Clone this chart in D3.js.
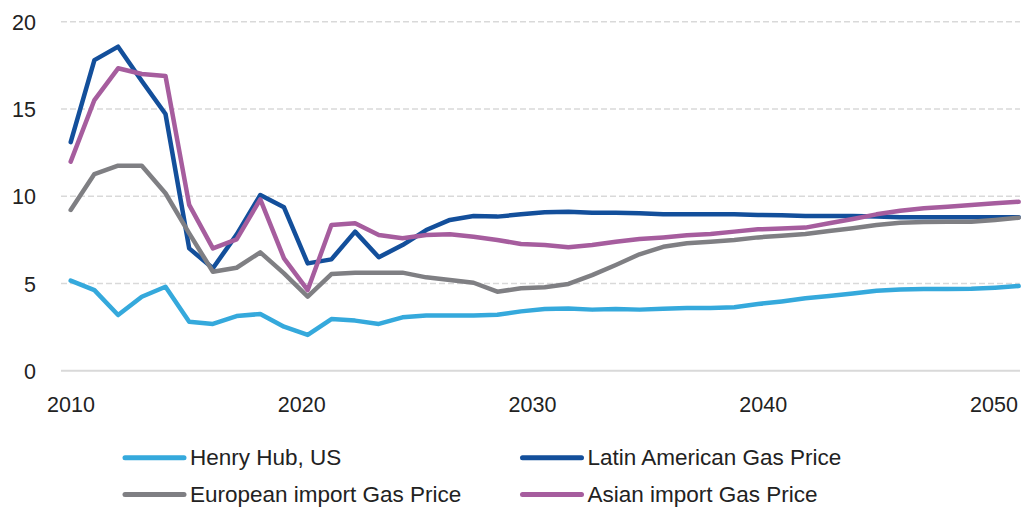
<!DOCTYPE html>
<html>
<head>
<meta charset="utf-8">
<script src="https://cdn.jsdelivr.net/npm/d3@7"></script>
<style>
  body { margin: 0; background: #fff; }
  text { font-family: "Liberation Sans", Arial, sans-serif; fill: #222; }
</style>
</head>
<body>
<div id="chart"></div>
<script>
(function() {
  // years 2010..2050
  var years = d3.range(2010, 2051)

  var henryHub = [5.16, 4.62, 3.19, 4.24, 4.81, 2.81, 2.68, 3.13, 3.25, 2.52,
    2.05, 2.96, 2.87, 2.68, 3.06, 3.17, 3.17, 3.17, 3.21, 3.4,
    3.54, 3.57, 3.5, 3.54, 3.5, 3.55, 3.59, 3.6, 3.64, 3.82,
    3.97, 4.15, 4.28, 4.43, 4.58, 4.66, 4.68, 4.68, 4.7, 4.76, 4.85]

  var latinAmerican = [13.1, 17.8, 18.57, 16.6, 14.71, 7.01, 5.87, 7.8, 10.07, 9.36,
    6.15, 6.38, 7.97, 6.5, 7.2, 8.06, 8.64, 8.87, 8.83, 8.96,
    9.08, 9.11, 9.05, 9.05, 9.02, 8.96, 8.96, 8.96, 8.96, 8.92,
    8.91, 8.87, 8.87, 8.87, 8.83, 8.79, 8.79, 8.79, 8.79, 8.79, 8.79]

  var european = [9.21, 11.27, 11.75, 11.75, 10.17, 7.87, 5.67, 5.9, 6.78, 5.58,
    4.24, 5.54, 5.62, 5.62, 5.62, 5.35, 5.2, 5.04, 4.53, 4.72,
    4.78, 4.97, 5.48, 6.06, 6.67, 7.1, 7.3, 7.39, 7.49, 7.64,
    7.73, 7.83, 8.0, 8.16, 8.35, 8.48, 8.52, 8.54, 8.54, 8.64, 8.77]

  var asian = [11.98, 15.51, 17.33, 17.0, 16.89, 9.5, 7.01, 7.53, 9.82, 6.44,
    4.62, 8.35, 8.45, 7.78, 7.59, 7.78, 7.82, 7.68, 7.49, 7.26,
    7.2, 7.07, 7.2, 7.39, 7.55, 7.64, 7.76, 7.83, 7.97, 8.1,
    8.15, 8.2, 8.45, 8.69, 8.96, 9.17, 9.31, 9.4, 9.5, 9.59, 9.68]

  var seriesNames = ['Henry Hub, US', 'Latin American Gas Price', 'European import Gas Price', 'Asian import Gas Price']
  var seriesValues = [henryHub, latinAmerican, european, asian]
  var seriesColors = ['#35a9dc', '#134f9b', '#7f7f83', '#a65d9e']

  var yTicks = [0, 5, 10, 15, 20]
  var xTickYears = [2010, 2020, 2030, 2040, 2050]

  var width = 1024
  var height = 508

  var xPositionScale = d3.scaleLinear().domain([2010, 2050]).range([70.7, 1018.7])
  // the year labels sit a little left of the matching points in the original
  var xLabelScale = d3.scaleLinear().domain([2010, 2050]).range([70.5, 993.5])
  var yPositionScale = d3.scaleLinear().domain([0, 20]).range([370.7, 21.7])

  var svg = d3.select('#chart')
    .append('svg')
    .attr('width', width)
    .attr('height', height)

  // gridlines
  svg.append('g')
    .attr('class', 'grid')
    .selectAll('line')
    .data(yTicks)
    .enter().append('line')
    .attr('x1', 61)
    .attr('x2', 1020)
    .attr('y1', d => yPositionScale(d))
    .attr('y2', d => yPositionScale(d))
    .attr('stroke', '#d9d9d9')
    .attr('stroke-width', d => d === 0 ? 2 : 1.5)
    .attr('stroke-dasharray', d => d === 0 ? null : '6,3')

  var yAxis = d3.axisLeft(yPositionScale).tickValues(yTicks).tickSize(0).tickPadding(0)
  svg.append('g')
    .attr('class', 'axis axis-y')
    .attr('transform', 'translate(36,0)')
    .call(yAxis)
    .call(g => g.select('.domain').remove())
    .selectAll('text')
    .attr('dy', '0.36em')
    .style('font-size', '21.5px')
    .style('font-family', '"Liberation Sans", Arial, sans-serif')
    .attr('fill', '#222')

  var xAxis = d3.axisBottom(xLabelScale).tickValues(xTickYears).tickFormat(d3.format('d')).tickSize(0).tickPadding(0)
  svg.append('g')
    .attr('class', 'axis axis-x')
    .attr('transform', 'translate(0,397)')
    .call(xAxis)
    .call(g => g.select('.domain').remove())
    .selectAll('text')
    .attr('dy', '0.72em')
    .style('font-size', '21.5px')
    .style('font-family', '"Liberation Sans", Arial, sans-serif')
    .attr('fill', '#222')

  var line = d3.line()
    .x((d, i) => xPositionScale(years[i]))
    .y(d => yPositionScale(d))

  svg.append('g')
    .attr('class', 'lines')
    .selectAll('path')
    .data(seriesValues)
    .enter().append('path')
    .attr('d', d => line(d))
    .attr('fill', 'none')
    .attr('stroke', (d, i) => seriesColors[i])
    .attr('stroke-width', 4.5)
    .attr('stroke-linejoin', 'round')
    .attr('stroke-linecap', 'round')

  // legend, two columns
  var legendX = [125, 522.5]
  var legendY = [457.7, 494.5]
  var legend = svg.append('g')
    .attr('class', 'legend')
    .selectAll('g')
    .data(seriesNames)
    .enter().append('g')
    .attr('transform', (d, i) => 'translate(' + legendX[i % 2] + ',' + legendY[Math.floor(i / 2)] + ')')

  legend.append('line')
    .attr('x1', 0)
    .attr('x2', 59)
    .attr('stroke', (d, i) => seriesColors[i])
    .attr('stroke-width', 5)
    .attr('stroke-linecap', 'round')

  legend.append('text')
    .attr('x', 65)
    .attr('y', 7.5)
    .style('font-size', '22.5px')
    .text(d => d)
})()
</script>
</body>
</html>
